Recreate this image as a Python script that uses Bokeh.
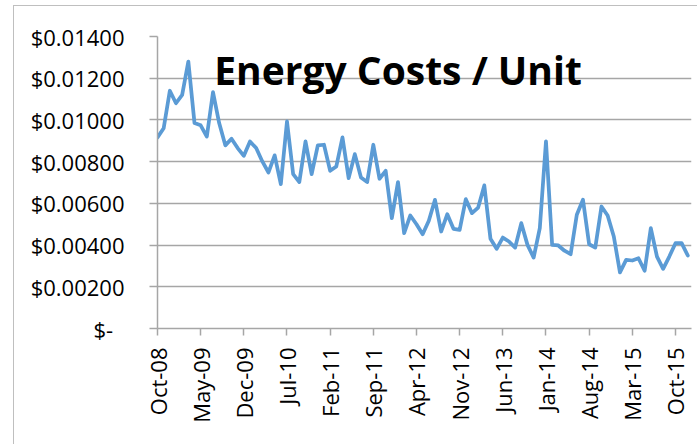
from bokeh.plotting import figure
from bokeh.models import Range1d, FixedTicker, Label, ColumnDataSource
from bokeh.embed import file_html
from bokeh.resources import INLINE
import math

# Monthly energy cost per unit, Oct-08 .. Dec-15
cost = [0.00916, 0.00960, 0.01140, 0.01080, 0.01120, 0.01280, 0.00985, 0.00974,
        0.00920, 0.01133, 0.00985, 0.00878, 0.00910, 0.00865, 0.00828, 0.00897,
        0.00865, 0.00801, 0.00748, 0.00830, 0.00692, 0.00993, 0.00740, 0.00702,
        0.00897, 0.00740, 0.00878, 0.00881, 0.00756, 0.00777, 0.00916, 0.00721,
        0.00836, 0.00724, 0.00702, 0.00881, 0.00718, 0.00756, 0.00529, 0.00702,
        0.00457, 0.00542, 0.00500, 0.00452, 0.00517, 0.00617, 0.00465, 0.00548,
        0.00478, 0.00473, 0.00620, 0.00553, 0.00580, 0.00686, 0.00430, 0.00382,
        0.00436, 0.00417, 0.00388, 0.00505, 0.00401, 0.00340, 0.00481, 0.00897,
        0.00401, 0.00398, 0.00373, 0.00356, 0.00545, 0.00617, 0.00404, 0.00388,
        0.00585, 0.00542, 0.00441, 0.00269, 0.00329, 0.00326, 0.00337, 0.00277,
        0.00481, 0.00345, 0.00286, 0.00345, 0.00409, 0.00409, 0.00350]
month_index = list(range(len(cost)))

x_tick_pos = [0, 7, 14, 21, 28, 35, 42, 49, 56, 63, 70, 77, 84]
x_tick_labels = ["Oct-08", "May-09", "Dec-09", "Jul-10", "Feb-11", "Sep-11", "Apr-12",
                 "Nov-12", "Jun-13", "Jan-14", "Aug-14", "Mar-15", "Oct-15"]
y_tick_pos = [0.0, 0.002, 0.004, 0.006, 0.008, 0.010, 0.012, 0.014]
y_tick_labels = ["$-\u00a0\u00a0", "$0.00200", "$0.00400", "$0.00600", "$0.00800",
                 "$0.01000", "$0.01200", "$0.01400"]
title_text = "Energy Costs / Unit"

FONT = "Open Sans"
GRID = "#a6a6a6"

p = figure(width=684, height=439, x_range=Range1d(0, 86.6), y_range=Range1d(0, 0.014),
           output_backend="svg", toolbar_location=None,
           min_border_left=143, min_border_right=7, min_border_top=30, min_border_bottom=117,
           margin=(5, 0, 0, 13))
p.styles = {"border-left": "1px solid #bfbfbf", "border-top": "1px solid #bfbfbf"}
p.outline_line_color = None
p.background_fill_color = "white"
p.border_fill_color = "white"

src = ColumnDataSource(dict(x=month_index, y=cost))
p.line("x", "y", source=src, line_color="#5B9BD5", line_width=3.75,
       line_join="round", line_cap="round")

p.xgrid.visible = False
p.ygrid.grid_line_color = GRID
p.ygrid.grid_line_width = 1.5
p.yaxis.ticker = FixedTicker(ticks=y_tick_pos)
p.yaxis.major_label_overrides = {v: l for v, l in zip(y_tick_pos, y_tick_labels)}
p.xaxis.ticker = FixedTicker(ticks=x_tick_pos)
p.xaxis.major_label_overrides = {v: l for v, l in zip(x_tick_pos, x_tick_labels)}
p.xaxis.major_label_orientation = math.pi / 2

for ax in (p.xaxis, p.yaxis):
    ax.axis_line_color = GRID
    ax.axis_line_width = 1.5
    ax.major_tick_line_color = GRID
    ax.major_tick_line_width = 1.5
    ax.major_tick_in = 0
    ax.minor_tick_line_color = None
    ax.major_label_text_font = FONT
    ax.major_label_text_font_size = "22px"
    ax.major_label_text_color = "black"
p.yaxis.major_tick_out = 8
p.yaxis.major_label_standoff = 25
p.xaxis.major_tick_out = 7
p.xaxis.major_label_standoff = 12

p.add_layout(Label(x=9.2, y=0.01242, text=title_text, text_font=FONT,
                   text_font_style="bold", text_font_size="39px",
                   text_color="black", text_baseline="alphabetic"))

open("out.html", "w").write(file_html(p, INLINE))
